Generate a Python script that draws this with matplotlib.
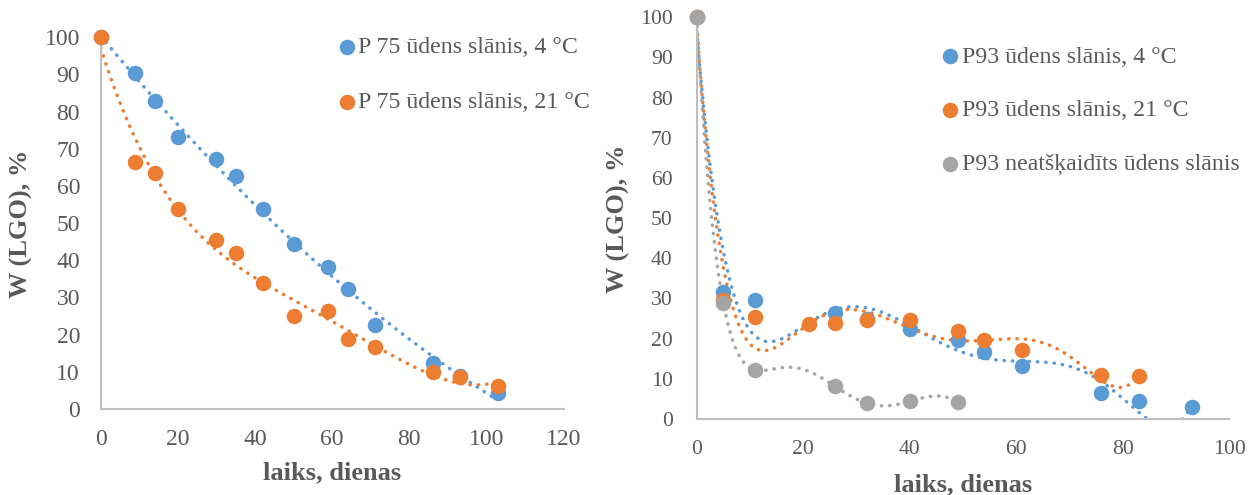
import numpy as np
import matplotlib.pyplot as plt

plt.rcParams['font.family'] = ['Liberation Serif', 'DejaVu Serif']

# left panel: P 75
p75_days = [0, 9, 14, 20, 30, 35, 42, 50, 59, 64, 71, 86, 93, 103]
p75_4c = [100, 90.3, 82.8, 73.1, 67.3, 62.6, 53.7, 44.4, 38.3, 32.2, 22.7, 12.4, 9.0, 4.2]
p75_21c = [100, 66.4, 63.4, 53.9, 45.6, 42.0, 33.8, 25.0, 26.3, 18.9, 16.8, 9.9, 8.5, 6.3]

# right panel: P93
p93_days_4c = [0, 5, 11, 26, 32, 40, 49, 54, 61, 76, 83, 93]
p93_4c = [100, 31.6, 29.5, 26.4, 24.8, 22.4, 19.7, 16.8, 13.1, 6.4, 4.4, 3.1]
p93_days_21c = [0, 5, 11, 21, 26, 32, 40, 49, 54, 61, 76, 83]
p93_21c = [100, 29.7, 25.4, 23.7, 24.0, 24.6, 24.6, 21.8, 19.7, 17.2, 11.0, 10.6]
p93_days_raw = [0, 5, 11, 26, 32, 40, 49]
p93_raw = [100, 28.9, 12.2, 8.1, 3.9, 4.4, 4.2]

blue, orange, grey = '#5B9BD5', '#ED7D31', '#A5A5A5'
txt = '#595959'
W, H = 1249, 495


def trend(ax, x, y, deg, color):
    # polynomial trendline like Excel
    p = np.polynomial.Polynomial.fit(x, y, deg)
    xs = np.linspace(min(x), max(x), 500)
    ax.plot(xs, p(xs), color=color, lw=2.5, ls=(0, (0.1, 2.3)),
            dash_capstyle='round', zorder=2)


def style(ax, xmax, tick_fs, xpad, ypad):
    ax.set_xlim(0, xmax)
    ax.set_ylim(0, 100)
    ax.set_xticks(np.arange(0, xmax + 1, 20))
    ax.set_yticks(np.arange(0, 101, 10))
    for s in ['top', 'right']:
        ax.spines[s].set_visible(False)
    for s in ['left', 'bottom']:
        ax.spines[s].set_color('#BFBFBF')
        ax.spines[s].set_linewidth(1.5)
    ax.tick_params(axis='x', length=0, pad=xpad, labelsize=tick_fs, labelcolor=txt)
    ax.tick_params(axis='y', length=0, pad=ypad, labelsize=tick_fs, labelcolor=txt)
    ax.set_xlabel('laiks, dienas', fontsize=19, fontweight='bold', color=txt, va='center')
    ax.set_ylabel('W (LGO), %', fontsize=19, fontweight='bold', color=txt, va='center')


def axes_px(left, right, top, bottom):
    return fig.add_axes([left / W, 1 - bottom / H, (right - left) / W, (bottom - top) / H])


fig = plt.figure(figsize=(W / 100, H / 100), dpi=100)

# left chart
ax1 = axes_px(100.7, 563.7, 37.3, 409)
style(ax1, 120, 17, 14.6, 14.9)
trend(ax1, p75_days, p75_4c, 2, blue)
trend(ax1, p75_days, p75_21c, 4, orange)
ax1.scatter(p75_days, p75_4c, s=125, color=blue, lw=0, zorder=3, clip_on=False,
            label='P 75 ūdens slānis, 4 °C')
ax1.scatter(p75_days, p75_21c, s=125, color=orange, lw=0, zorder=3, clip_on=False,
            label='P 75 ūdens slānis, 21 °C')
ax1.xaxis.set_label_coords(0.5, -0.173)
ax1.yaxis.set_label_coords(-0.1706, 0.498)
ax1.legend(loc='upper left', bbox_to_anchor=(340 / W, 1 - 36.6 / H),
           bbox_transform=fig.transFigure, frameon=False, fontsize=17.2,
           handlelength=0.6, handletextpad=0.15, labelspacing=1.38,
           borderpad=0, borderaxespad=0, labelcolor=txt, scatterpoints=1)

# right chart
ax2 = axes_px(696.7, 1229.3, 17.3, 419)
style(ax2, 100, 15.6, 15.1, 17.3)
trend(ax2, p93_days_4c, p93_4c, 6, blue)
trend(ax2, p93_days_21c, p93_21c, 6, orange)
trend(ax2, p93_days_raw, p93_raw, 6, grey)
ax2.scatter(p93_days_4c, p93_4c, s=125, color=blue, lw=0, zorder=3, clip_on=False,
            label='P93 ūdens slānis, 4 °C')
ax2.scatter(p93_days_21c, p93_21c, s=125, color=orange, lw=0, zorder=3, clip_on=False,
            label='P93 ūdens slānis, 21 °C')
ax2.scatter(p93_days_raw, p93_raw, s=125, color=grey, lw=0, zorder=3, clip_on=False,
            label='P93 neatšķaidīts ūdens slānis')
ax2.xaxis.set_label_coords(0.5, -0.164)
ax2.yaxis.set_label_coords(-0.1466, 0.498)
ax2.legend(loc='upper left', bbox_to_anchor=(942.6 / W, 1 - 46 / H),
           bbox_transform=fig.transFigure, frameon=False, fontsize=17.2,
           handlelength=0.6, handletextpad=0.2, labelspacing=1.34,
           borderpad=0, borderaxespad=0, labelcolor=txt, scatterpoints=1)

fig.savefig('out.png', dpi=100)
